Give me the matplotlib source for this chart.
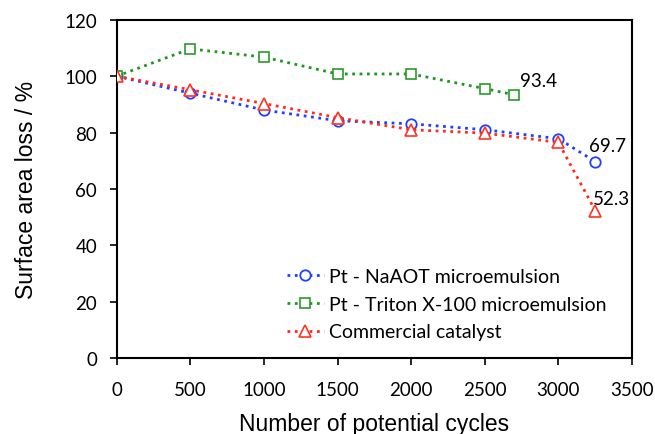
import matplotlib
matplotlib.use("Agg")
import matplotlib.pyplot as plt

# data
cycles_naaot = [0, 500, 1000, 1500, 2000, 2500, 3000, 3250]
loss_naaot = [100, 94.0, 88.0, 84.2, 83.1, 81.0, 77.8, 69.7]

cycles_triton = [0, 500, 1000, 1500, 2000, 2500, 2700]
loss_triton = [100, 109.7, 106.8, 100.8, 100.8, 95.6, 93.4]

cycles_comm = [0, 500, 1000, 1500, 2000, 2500, 3000, 3250]
loss_comm = [100, 95.2, 90.3, 85.3, 81.0, 79.8, 76.5, 52.3]

labels = ["Pt - NaAOT microemulsion", "Pt - Triton X-100 microemulsion", "Commercial catalyst"]

tick_font = "Lato"
label_font = "Liberation Sans"

fig = plt.figure(figsize=(6.55, 4.35), dpi=100)
ax = fig.add_axes([0.178, 0.175, 0.787, 0.777])

ax.plot(cycles_naaot, loss_naaot, linestyle=":", linewidth=2, color="#2040ff",
        marker="o", markersize=7.5, markerfacecolor="white", markeredgecolor="#2040ff",
        markeredgewidth=1.3, label=labels[0], zorder=3)
ax.plot(cycles_triton, loss_triton, linestyle=":", linewidth=2, color="#1f961f",
        marker="s", markersize=7.5, markerfacecolor="white", markeredgecolor="#2a9a2a",
        markeredgewidth=1.2, label=labels[1], zorder=3)
ax.plot(cycles_comm, loss_comm, linestyle=":", linewidth=2, color="#ff2a1a",
        marker="^", markersize=8, markerfacecolor="white", markeredgecolor="#ff3322",
        markeredgewidth=1.2, label=labels[2], zorder=4)

# end-point value labels
ax.annotate("93.4", (cycles_triton[-1], loss_triton[-1]), xytext=(6, 14),
            textcoords="offset pixels", fontsize=13.5, fontfamily=tick_font, va="center")
ax.annotate("69.7", (cycles_naaot[-1], loss_naaot[-1]), xytext=(-6, 16),
            textcoords="offset pixels", fontsize=13.5, fontfamily=tick_font, va="center")
ax.annotate("52.3", (cycles_comm[-1], loss_comm[-1]), xytext=(-2, 12),
            textcoords="offset pixels", fontsize=13.5, fontfamily=tick_font, va="center")

ax.set_xlim(0, 3500)
ax.set_ylim(0, 120)
ax.set_xticks(range(0, 3501, 500))
ax.set_yticks(range(0, 121, 20))
ax.tick_params(direction="out", length=5, width=1.2, labelsize=13.5)
ax.tick_params(axis="x", pad=12)
ax.tick_params(axis="y", pad=9)
for lbl in ax.get_xticklabels() + ax.get_yticklabels():
    lbl.set_fontfamily(tick_font)
for sp in ax.spines.values():
    sp.set_linewidth(1.5)

ax.set_xlabel("Number of potential cycles", fontsize=16.5, fontfamily=label_font, labelpad=10)
ax.set_ylabel("Surface area loss / %", fontsize=16.5, fontfamily=label_font, labelpad=19)

leg = ax.legend(loc="lower right", bbox_to_anchor=(0.985, 0.0), frameon=False,
                prop={"family": tick_font, "size": 14}, handlelength=1.9,
                handletextpad=0.3, labelspacing=0.55)

fig.savefig("out.png", dpi=100)
